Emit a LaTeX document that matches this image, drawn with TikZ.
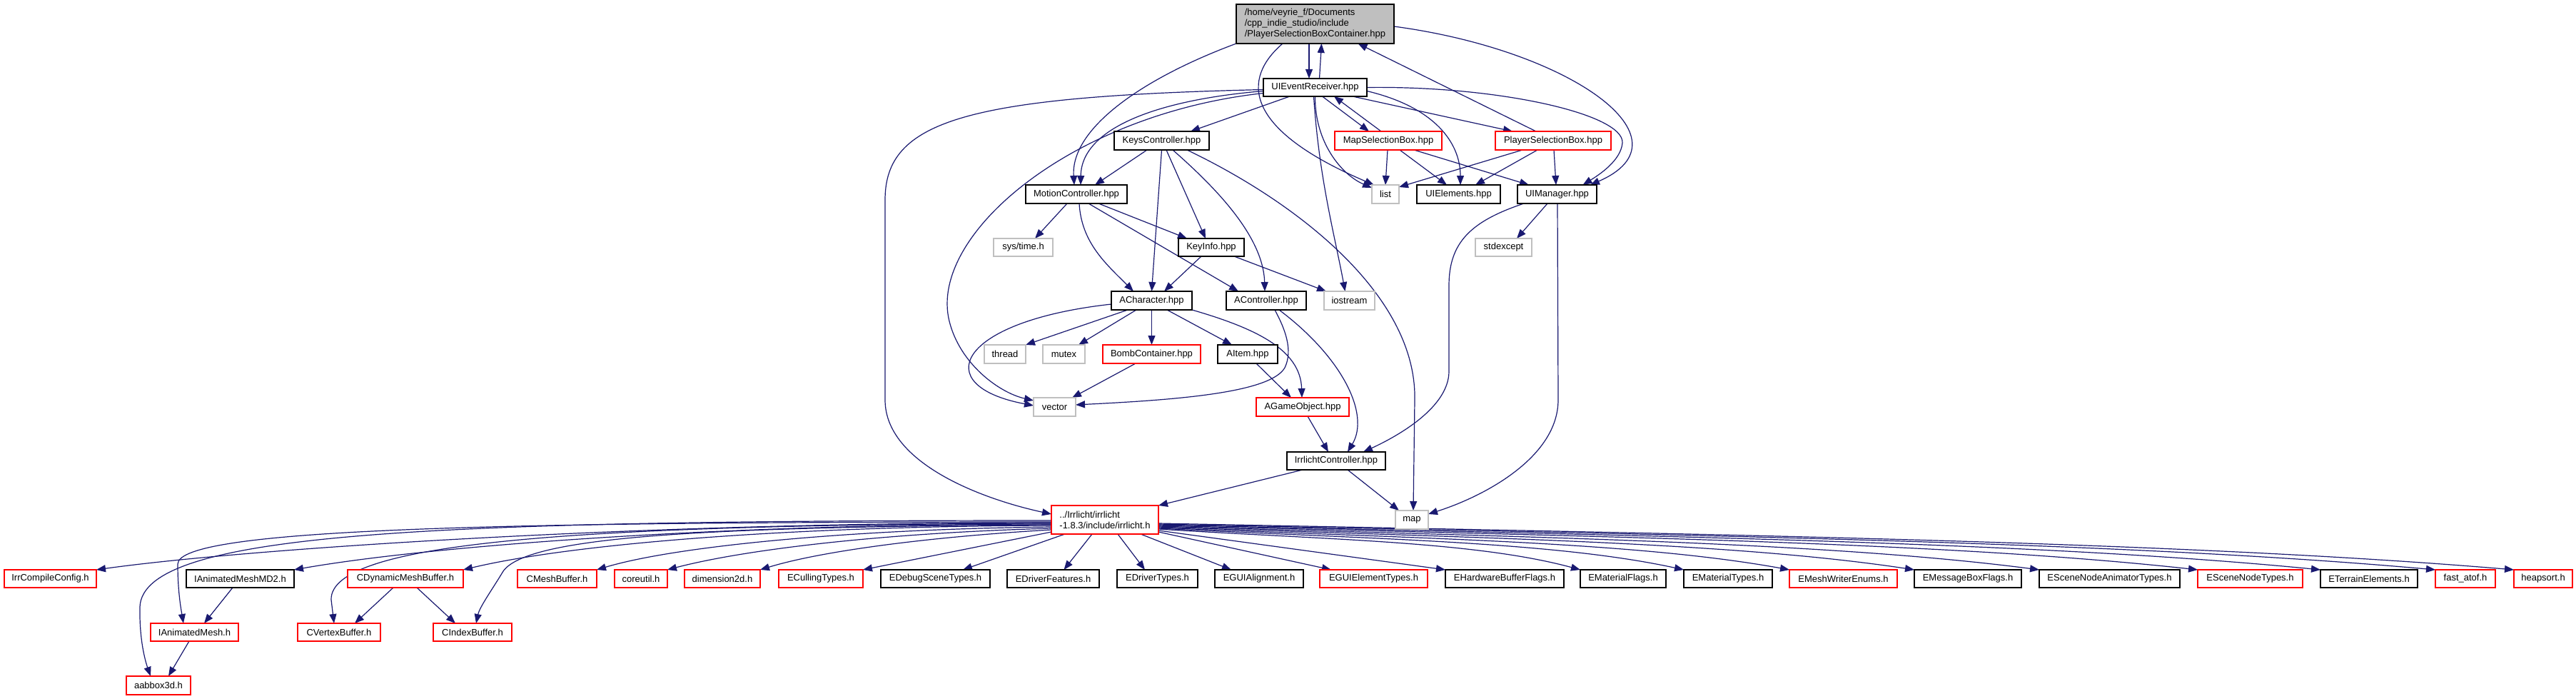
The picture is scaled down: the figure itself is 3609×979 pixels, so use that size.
\documentclass[tikz,border=0pt]{standalone}
\usepackage{fontspec}
\setmainfont{Liberation Sans}
\usetikzlibrary{arrows.meta}
\definecolor{edgec}{HTML}{191970}
\definecolor{boxgrey}{HTML}{BFBFBF}
\definecolor{boxred}{HTML}{FF0000}
\pgfdeclarelayer{edgelayer}
\pgfsetlayers{edgelayer,main}
\newcommand\mynode[7]{%
 \pgfmathsetmacro\ndw{#4-#3}\pgfmathsetmacro\ndh{#6-#5}%
 \pgfmathsetmacro\ndx{(#3+#4)/2}\pgfmathsetmacro\ndy{(#5+#6)/2}%
 \node[#2,minimum width=\ndw pt,minimum height=\ndh pt] (#1) at (\ndx,\ndy) {#7};}
\tikzset{
 box/.style={draw, fill=white, line width=1.8pt, inner sep=0pt, outer sep=0pt, font=\fontsize{13}{15}\selectfont, text=black},
 docbox/.style={box, draw=black},
 extbox/.style={box, draw=boxgrey},
 redbox/.style={box, draw=boxred},
 conn/.style={draw=edgec, line width=1.2pt, -{Triangle[length=13pt,width=10pt]}},
}
\begin{document}
\begin{tikzpicture}[x=1pt,y=-1pt]
\begin{pgfonlayer}{edgelayer}
\fill[white] (0,0) rectangle (3609,979);
\end{pgfonlayer}
\useasboundingbox (0,0) rectangle (3609,979);
% ---- nodes
\mynode{main}{docbox,fill=boxgrey,align=left}{1732}{1953}{6}{61}{/home/veyrie\_f/Documents\\/cpp\_indie\_studio/include\\/PlayerSelectionBoxContainer.hpp}
\mynode{uie}{docbox}{1770}{1915}{110}{135}{UIEventReceiver.hpp}
\mynode{keys}{docbox}{1561}{1694}{184}{210}{KeysController.hpp}
\mynode{msb}{redbox}{1870}{2020}{184}{210}{MapSelectionBox.hpp}
\mynode{psb}{redbox}{2095}{2257}{184}{210}{PlayerSelectionBox.hpp}
\mynode{motion}{docbox}{1437}{1579}{259}{285}{MotionController.hpp}
\mynode{list}{extbox}{1922}{1960}{259}{285}{list}
\mynode{uiel}{docbox}{1985}{2102}{259}{285}{UIElements.hpp}
\mynode{uim}{docbox}{2126}{2237}{259}{285}{UIManager.hpp}
\mynode{systime}{extbox}{1392}{1475}{334}{359}{sys/time.h}
\mynode{keyinfo}{docbox}{1651}{1743}{334}{359}{KeyInfo.hpp}
\mynode{stdexc}{extbox}{2067}{2146}{334}{359}{stdexcept}
\mynode{achar}{docbox}{1557}{1670}{408}{434}{ACharacter.hpp}
\mynode{actrl}{docbox}{1718}{1830}{408}{434}{AController.hpp}
\mynode{iostream}{extbox}{1855}{1926}{408}{434}{iostream}
\mynode{thread}{extbox}{1379}{1437}{483}{509}{thread}
\mynode{mutex}{extbox}{1461}{1520}{483}{509}{mutex}
\mynode{bomb}{redbox}{1545}{1682}{483}{509}{BombContainer.hpp}
\mynode{aitem}{docbox}{1706}{1790}{483}{509}{AItem.hpp}
\mynode{vector}{extbox}{1448}{1507}{557}{583}{vector}
\mynode{agame}{redbox}{1760}{1890}{557}{583}{AGameObject.hpp}
\mynode{irrctl}{docbox}{1803}{1941}{633}{658}{IrrlichtController.hpp}
\mynode{irr}{redbox,align=left}{1473}{1623}{708}{748}{../Irrlicht/irrlicht\\-1.8.3/include/irrlicht.h}
\mynode{map}{extbox}{1955}{2001}{715}{741}{map}
% bottom row
\mynode{irrcomp}{redbox}{6}{135}{798}{823}{IrrCompileConfig.h}
\mynode{md2}{docbox}{261}{412}{798}{823}{IAnimatedMeshMD2.h}
\mynode{cdyn}{redbox}{487}{649}{798}{823}{CDynamicMeshBuffer.h}
\mynode{cmesh}{redbox}{725}{836}{798}{823}{CMeshBuffer.h}
\mynode{coreutil}{redbox}{861}{935}{798}{823}{coreutil.h}
\mynode{dimtwo}{redbox}{959}{1065}{798}{823}{dimension2d.h}
\mynode{ecull}{redbox}{1091}{1209}{798}{823}{ECullingTypes.h}
\mynode{edebug}{docbox}{1234}{1387}{798}{823}{EDebugSceneTypes.h}
\mynode{edrvf}{docbox}{1411}{1540}{798}{823}{EDriverFeatures.h}
\mynode{edrvt}{docbox}{1565}{1678}{798}{823}{EDriverTypes.h}
\mynode{eguial}{docbox}{1702}{1826}{798}{823}{EGUIAlignment.h}
\mynode{eguiel}{redbox}{1849}{2000}{798}{823}{EGUIElementTypes.h}
\mynode{ehw}{docbox}{2025}{2191}{798}{823}{EHardwareBufferFlags.h}
\mynode{emf}{docbox}{2214}{2334}{798}{823}{EMaterialFlags.h}
\mynode{emt}{docbox}{2359}{2483}{798}{823}{EMaterialTypes.h}
\mynode{emw}{redbox}{2507}{2658}{798}{823}{EMeshWriterEnums.h}
\mynode{emb}{docbox}{2682}{2832}{798}{823}{EMessageBoxFlags.h}
\mynode{esna}{docbox}{2857}{3054}{798}{823}{ESceneNodeAnimatorTypes.h}
\mynode{esnt}{redbox}{3079}{3226}{798}{823}{ESceneNodeTypes.h}
\mynode{eterr}{docbox}{3251}{3387}{798}{823}{ETerrainElements.h}
\mynode{fatof}{redbox}{3412}{3496}{798}{823}{fast\_atof.h}
\mynode{heap}{redbox}{3522}{3604}{798}{823}{heapsort.h}
\mynode{ianim}{redbox}{211}{334}{873}{898}{IAnimatedMesh.h}
\mynode{cvert}{redbox}{417}{533}{873}{898}{CVertexBuffer.h}
\mynode{cindex}{redbox}{607}{717}{873}{898}{CIndexBuffer.h}
\mynode{aabb}{redbox}{177}{267}{947}{973}{aabbox3d.h}
\begin{pgfonlayer}{edgelayer}
% ---- edges: main
\draw[conn] ([xshift=-8.5pt]main.south) -- ([xshift=-8.5pt]uie.north);
\draw[conn] ([xshift=6pt]uie.north) -- ([xshift=9pt]main.south);
\draw[conn] (main.south west) .. controls (1600,110) and (1500,180) .. ([xshift=-3pt]motion.north);
\draw[conn] ([xshift=-45.5pt]main.south) .. controls (1740,110) and (1740,180) .. ([xshift=3pt]list.north west);
\draw[conn] ([yshift=-3.5pt]main.east) .. controls (2200,70) and (2375,195) .. ([xshift=46.5pt]uim.north);
\draw[conn] ([xshift=-24pt]psb.north) -- ([xshift=60pt]main.south);
% uie
\draw[conn] ([xshift=-35.5pt]uie.south) -- ([xshift=40.5pt]keys.north);
\draw[conn] ([xshift=10pt]uie.south) -- ([xshift=-27pt]msb.north);
\draw[conn] ([xshift=-10pt]msb.north) -- ([xshift=26.5pt]uie.south);
\draw[conn] ([xshift=52.5pt]uie.south) -- ([xshift=-57pt]psb.north);
\draw[conn] (uie.south) .. controls (1842,200) and (1880,245) .. ([yshift=-4pt]list.north west);
\draw[conn] ([xshift=-2pt]uie.south) .. controls (1848,250) and (1870,330) .. ([xshift=-6pt]iostream.north);
\draw[conn] ([yshift=-5pt]uie.east) .. controls (2010,150) and (2046,200) .. ([xshift=2.5pt]uiel.north);
\draw[conn] (uie.east) .. controls (2100,120) and (2275,160) .. (2273,200) .. controls (2271,225) and (2240,245) .. ([xshift=36pt]uim.north);
\draw[conn] ([yshift=-5pt]uie.west) .. controls (1620,140) and (1515,180) .. ([xshift=6pt]motion.north);
\draw[conn] ([yshift=-8pt]uie.west) .. controls (1500,160) and (1300,330) .. (1330,450) .. controls (1345,510) and (1400,550) .. ([yshift=-4pt]vector.north west);
\draw[conn] ([yshift=-3pt]uie.west) .. controls (1350,135) and (1240,170) .. (1240,280) -- (1240,560) .. controls (1240,650) and (1380,700) .. ([yshift=8pt]irr.west);
% keys
\draw[conn] ([xshift=-20.5pt]keys.south) -- ([xshift=26pt]motion.north);
\draw[conn] (keys.south) -- (achar.north);
\draw[conn] ([xshift=6.5pt]keys.south) -- ([xshift=-8pt]keyinfo.north);
\draw[conn] ([xshift=15.5pt]keys.south) .. controls (1700,260) and (1770,330) .. ([xshift=-2pt]actrl.north);
\draw[conn] ([xshift=35.5pt]keys.south) .. controls (1830,290) and (1985,420) .. (1982,560) -- ([xshift=2pt]map.north);
% motion
\draw[conn] ([xshift=-13pt]motion.south) -- ([xshift=16.5pt]systime.north);
\draw[conn] ([xshift=4pt]motion.south) .. controls (1515,340) and (1550,370) .. ([xshift=-25.5pt]achar.north);
\draw[conn] ([xshift=17pt]motion.south) -- ([xshift=-39pt]actrl.north);
\draw[conn] ([xshift=31pt]motion.south) -- ([xshift=-34pt]keyinfo.north);
% keyinfo
\draw[conn] ([xshift=-14pt]keyinfo.south) -- ([xshift=17.5pt]achar.north);
\draw[conn] ([xshift=32pt]keyinfo.south) -- ([xshift=-32.5pt]iostream.north);
% achar
\draw[conn] ([yshift=-5pt]achar.west) .. controls (1340,450) and (1300,540) .. ([yshift=2pt]vector.west);
\draw[conn] ([xshift=-33.5pt]achar.south) -- (thread.north east);
\draw[conn] ([xshift=-21.5pt]achar.south) -- ([xshift=20.5pt]mutex.north);
\draw[conn] (achar.south) -- (bomb.north);
\draw[conn] ([xshift=21.5pt]achar.south) -- ([xshift=-22pt]aitem.north);
\draw[conn] (achar.south east) .. controls (1760,460) and (1822,490) .. ([xshift=-1pt]agame.north);
% actrl
\draw[conn] ([xshift=12pt]actrl.south) .. controls (1800,460) and (1812,490) .. (1800,515) .. controls (1780,550) and (1650,560) .. ([yshift=3pt]vector.east);
\draw[conn] ([xshift=18pt]actrl.south) .. controls (1880,500) and (1920,580) .. ([xshift=16pt]irrctl.north);
% others
\draw[conn] ([xshift=-22.5pt]bomb.south) -- ([xshift=24.5pt]vector.north);
\draw[conn] ([xshift=12pt]aitem.south) -- ([xshift=-16pt]agame.north);
\draw[conn] ([xshift=7pt]agame.south) -- ([xshift=-11pt]irrctl.north);
\draw[conn] ([xshift=-13.5pt]uim.south) -- ([xshift=18.5pt]stdexc.north);
\draw[conn] ([xshift=-46.5pt]uim.south) .. controls (2060,310) and (2030,340) .. (2030,400) -- (2030,520) .. controls (2030,570) and (1960,610) .. ([xshift=38pt]irrctl.north);
\draw[conn] ([xshift=0.5pt]uim.south) -- (2183,560) .. controls (2183,640) and (2080,695) .. ([yshift=8pt]map.east);
\draw[conn] ([xshift=-47pt]irrctl.south) -- (irr.north east);
\draw[conn] ([xshift=16pt]irrctl.south) -- ([xshift=-18pt]map.north);
\draw[conn] ([xshift=-1pt]msb.south) -- (list.north);
\draw[conn] ([xshift=16pt]msb.south) -- ([xshift=-16.5pt]uiel.north);
\draw[conn] ([xshift=36pt]msb.south) -- ([xshift=-39.5pt]uim.north);
\draw[conn] ([xshift=-43pt]psb.south) -- ([yshift=-3pt]list.north east);
\draw[conn] ([xshift=-22pt]psb.south) -- ([xshift=23.5pt]uiel.north);
\draw[conn] ([xshift=1pt]psb.south) -- ([xshift=-1.5pt]uim.north);
% irrlicht.h fan, left
\draw[conn] ([yshift=-17pt]irr.west) -- (ecull.north east);
\draw[conn] ([yshift=-14pt]irr.west) .. controls (1300,752) and (1150,772) .. (dimtwo.north east);
\draw[conn] ([yshift=-12pt]irr.west) .. controls (1250,746) and (1050,768) .. (coreutil.north east);
\draw[conn] ([yshift=-10pt]irr.west) .. controls (1200,741) and (950,764) .. (cmesh.north east);
\draw[conn] ([yshift=-8pt]irr.west) .. controls (1100,737) and (800,762) .. (cdyn.north east);
\draw[conn] ([yshift=-6pt]irr.west) .. controls (1000,734) and (600,765) .. (md2.north east);
\draw[conn] ([yshift=-4pt]irr.west) .. controls (900,732) and (350,768) .. (irrcomp.north east);
\draw[conn] ([yshift=-7pt]irr.west) .. controls (1000,738) and (740,750) .. (705,800) .. controls (690,825) and (672,850) .. ([xshift=5pt]cindex.north);
\draw[conn] ([yshift=-5pt]irr.west) .. controls (800,735) and (462,760) .. (464,840) -- ([xshift=-7pt]cvert.north);
\draw[conn] ([yshift=-3pt]irr.west) .. controls (700,731) and (250,740) .. (249,790) .. controls (249,830) and (254,855) .. ([xshift=-15.5pt]ianim.north);
\draw[conn] ([yshift=-1pt]irr.west) .. controls (600,729) and (200,745) .. (196,850) .. controls (195,900) and (205,930) .. ([xshift=-11pt]aabb.north);
% irrlicht.h fan, below and right
\draw[conn] ([xshift=-56pt]irr.south) -- ([xshift=38.5pt]edebug.north);
\draw[conn] ([xshift=-18pt]irr.south) -- ([xshift=15pt]edrvf.north);
\draw[conn] ([xshift=18pt]irr.south) -- ([xshift=-17.5pt]edrvt.north);
\draw[conn] ([xshift=50pt]irr.south) -- ([xshift=-39pt]eguial.north);
\draw[conn] ([yshift=-17pt]irr.east) -- ([xshift=-59.5pt]eguiel.north);
\draw[conn] ([yshift=-15pt]irr.east) -- (ehw.north west);
\draw[conn] ([yshift=-13pt]irr.east) .. controls +(236,15) and +(-148,-40) .. (emf.north west);
\draw[conn] ([yshift=-12pt]irr.east) .. controls +(294,15) and +(-184,-40) .. (emt.north west);
\draw[conn] ([yshift=-11pt]irr.east) .. controls +(354,15) and +(-221,-40) .. (emw.north west);
\draw[conn] ([yshift=-10pt]irr.east) .. controls +(424,15) and +(-265,-40) .. (emb.north west);
\draw[conn] ([yshift=-9pt]irr.east) .. controls +(494,15) and +(-308,-40) .. (esna.north west);
\draw[conn] ([yshift=-8pt]irr.east) .. controls +(582,15) and +(-364,-40) .. (esnt.north west);
\draw[conn] ([yshift=-7pt]irr.east) .. controls +(651,15) and +(-407,-40) .. (eterr.north west);
\draw[conn] ([yshift=-6pt]irr.east) .. controls +(716,15) and +(-447,-40) .. (fatof.north west);
\draw[conn] ([yshift=-5pt]irr.east) .. controls +(760,15) and +(-475,-40) .. (heap.north west);
% lower level
\draw[conn] ([xshift=-10.5pt]md2.south) -- ([xshift=13.5pt]ianim.north);
\draw[conn] ([xshift=-17pt]cdyn.south) -- ([xshift=22pt]cvert.north);
\draw[conn] ([xshift=16pt]cdyn.south) -- ([xshift=-24pt]cindex.north);
\draw[conn] ([xshift=-7.5pt]ianim.south) -- ([xshift=14pt]aabb.north);
\end{pgfonlayer}
\end{tikzpicture}
\end{document}
